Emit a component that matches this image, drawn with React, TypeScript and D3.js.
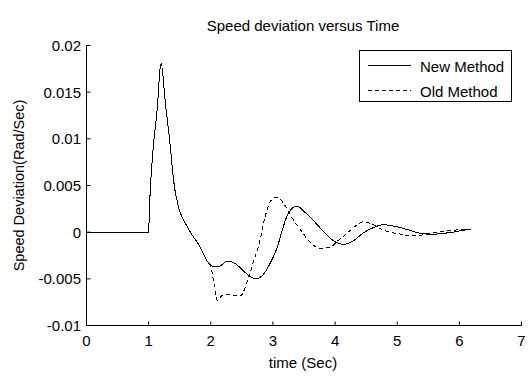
import React from 'react';
import * as d3 from 'd3';

const newTime = [0, 1.0, 1.01, 1.14, 1.2, 1.27, 1.35, 1.4, 1.48, 1.56, 1.62, 1.7, 1.83, 1.94, 2.05, 2.12, 2.27, 2.4, 2.55, 2.72, 2.85, 2.95, 3.07, 3.15, 3.23, 3.3, 3.38, 3.52, 3.7, 3.85, 3.97, 4.13, 4.3, 4.45, 4.62, 4.77, 4.9, 5.04, 5.2, 5.36, 5.5, 5.63, 5.78, 5.9, 6.05, 6.19];
const newSpeed = [0, 0, 0.002, 0.0134, 0.0181, 0.0138, 0.0091, 0.0056, 0.0027, 0.0013, 0.0006, -0.0003, -0.0016, -0.0031, -0.0037, -0.0037, -0.0031, -0.0034, -0.0043, -0.005, -0.0045, -0.0034, -0.0016, 0.0002, 0.0018, 0.0025, 0.0028, 0.0021, 0.0009, -0.0002, -0.0009, -0.0013, -0.0009, -0.0001, 0.0005, 0.0008, 0.0007, 0.0005, 0.0002, -0.0001, -0.0002, -0.0002, -0.0001, 0.0, 0.0002, 0.0003];

const oldTime = [0, 1.0, 1.01, 1.14, 1.2, 1.27, 1.35, 1.4, 1.48, 1.56, 1.62, 1.7, 1.83, 1.94, 2.0, 2.05, 2.1, 2.18, 2.26, 2.4, 2.48, 2.55, 2.61, 2.69, 2.78, 2.88, 2.95, 3.03, 3.1, 3.17, 3.25, 3.33, 3.45, 3.55, 3.65, 3.75, 3.85, 3.95, 4.05, 4.18, 4.3, 4.45, 4.58, 4.72, 4.88, 5.04, 5.15, 5.25, 5.4, 5.57, 5.75, 5.9, 6.05, 6.19];
const oldSpeed = [0, 0, 0.002, 0.0134, 0.0181, 0.0138, 0.0091, 0.0056, 0.0027, 0.0013, 0.0006, -0.0003, -0.0016, -0.0031, -0.0037, -0.0055, -0.0073, -0.0068, -0.0067, -0.0068, -0.0068, -0.006, -0.0048, -0.0031, -0.0012, 0.0018, 0.0032, 0.0037, 0.0036, 0.0031, 0.0022, 0.0013, 0.0002, -0.0007, -0.0014, -0.0017, -0.0017, -0.0015, -0.0009, -0.0002, 0.0005, 0.0011, 0.0009, 0.0004, 0.0, -0.0002, -0.0004, -0.0004, -0.0003, -0.0001, 0.0001, 0.0002, 0.0003, 0.0003];

const xTicks = [0, 1, 2, 3, 4, 5, 6, 7];
const yTicks = [-0.01, -0.005, 0, 0.005, 0.01, 0.015, 0.02];
const yTickLabels = ['-0.01', '-0.005', '0', '0.005', '0.01', '0.015', '0.02'];
const legendLabels = ['New Method', 'Old Method'];

const W = 532;
const H = 383;
const font = 'Arial, "Liberation Sans", Helvetica, sans-serif';

export default function App() {
  const x = d3.scaleLinear().domain([0, 7]).range([86.5, 521.5]);
  const y = d3.scaleLinear().domain([-0.01, 0.02]).range([325.5, 45.5]);

  const line = d3
    .line<[number, number]>()
    .x((d) => x(d[0]))
    .y((d) => y(d[1]))
    .curve(d3.curveMonotoneX);

  const newPts = newTime.map((t, i) => [t, newSpeed[i]] as [number, number]);
  const oldPts = oldTime.map((t, i) => [t, oldSpeed[i]] as [number, number]);

  const x0 = x(0);
  const x1 = x(7);
  const yb = y(-0.01);
  const yt = y(0.02);

  return (
    <svg
      width={W}
      height={H}
      style={{ position: 'absolute', left: 0, top: 0, background: '#fff' }}
      fontFamily={font}
    >
      <rect width={W} height={H} fill="#fff" />

      <text x={303} y={31} fontSize={15} textAnchor="middle" fill="#000">
        Speed deviation versus Time
      </text>

      {/* curves, aliased like the original export */}
      <path d={line(oldPts) || ''} fill="none" stroke="#000" strokeWidth={1} strokeDasharray="4,3" shapeRendering="crispEdges" />
      <path d={line(newPts) || ''} fill="none" stroke="#000" strokeWidth={1} shapeRendering="crispEdges" />

      {/* axes */}
      <line x1={x0} x2={x0} y1={yt} y2={yb} stroke="#000" strokeWidth={1} />
      <line x1={x0} x2={x1} y1={yb} y2={yb} stroke="#000" strokeWidth={1} />

      {xTicks.map((t) => (
        <g key={'x' + t}>
          <line x1={x(t)} x2={x(t)} y1={yb} y2={yb - 4} stroke="#000" strokeWidth={1} />
          <text x={x(t)} y={345.5} fontSize={15} textAnchor="middle" fill="#000">
            {t}
          </text>
        </g>
      ))}

      {yTicks.map((v, i) => (
        <g key={'y' + i}>
          <line x1={x0} x2={x0 + 4} y1={y(v)} y2={y(v)} stroke="#000" strokeWidth={1} />
          <text x={81} y={y(v)} dy="0.36em" fontSize={15} textAnchor="end" fill="#000">
            {yTickLabels[i]}
          </text>
        </g>
      ))}

      <text x={303} y={368} fontSize={15} textAnchor="middle" fill="#000">
        time (Sec)
      </text>
      <text
        transform={`translate(23.5,${(yt + yb) / 2}) rotate(-90)`}
        fontSize={14.5}
        textAnchor="middle"
        fill="#000"
      >
        Speed Deviation(Rad/Sec)
      </text>

      {/* legend */}
      <rect x={359.5} y={50.5} width={152} height={51} fill="#fff" stroke="#000" strokeWidth={1} />
      {legendLabels.map((lab, i) => (
        <g key={lab}>
          <line
            x1={368}
            x2={411}
            y1={65.5 + i * 25}
            y2={65.5 + i * 25}
            stroke="#000"
            strokeWidth={1}
            strokeDasharray={i === 1 ? '4,3' : undefined}
          />
          <text x={420} y={71.5 + i * 25} fontSize={15} fill="#000">
            {lab}
          </text>
        </g>
      ))}
    </svg>
  );
}
